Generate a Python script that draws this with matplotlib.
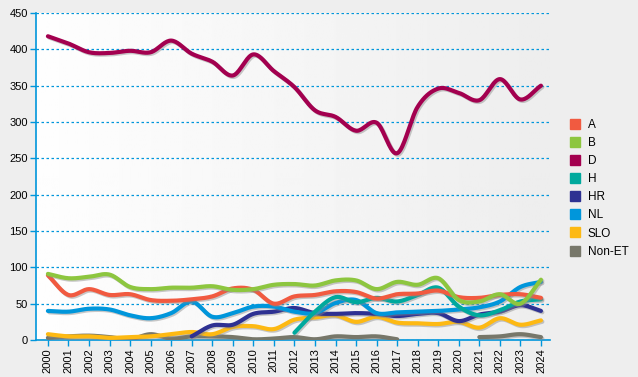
import numpy as np
import matplotlib.pyplot as plt
import matplotlib.patheffects as pe
from matplotlib.lines import Line2D

plt.rcParams['font.family'] = ['Liberation Sans', 'DejaVu Sans']

years = np.arange(2000, 2025)
nan = np.nan

A = [89, 62, 70, 62, 63, 55, 54, 56, 60, 71, 69, 50, 60, 62, 67, 66, 57, 63, 64, 68, 59, 58, 62, 63, 58]
B = [91, 85, 87, 90, 73, 70, 72, 72, 74, 69, 70, 76, 77, 75, 82, 82, 70, 80, 76, 85, 55, 53, 63, 50, 83]
D = [418, 408, 396, 395, 398, 396, 412, 394, 383, 364, 393, 370, 348, 316, 307, 288, 299, 257, 321, 346, 340, 330, 359, 331, 350]
H = [nan] * 12 + [10, 39, 59, 52, 58, 53, 62, 72, 46, 34, 41, 53, 56]
HR = [nan] * 7 + [5, 20, 21, 36, 39, 44, 37, 36, 37, 36, 33, 36, 37, 26, 35, 39, 48, 40]
NL = [40, 39, 43, 42, 34, 30, 37, 53, 32, 37, 46, 46, 39, 37, 51, 55, 37, 38, 39, 40, 42, 45, 53, 73, 80]
SLO = [8, 5, 5, 3, 4, 5, 8, 11, 8, 18, 19, 15, 28, 31, 34, 25, 32, 24, 23, 22, 25, 17, 30, 21, 27]
NonET = [3, 5, 6, 4, 1, 8, 2, 5, 5, 4, 1, 2, 4, 1, 5, 4, 5, 1, nan, nan, nan, 4, 5, 8, 4]

names = ['A', 'B', 'D', 'H', 'HR', 'NL', 'SLO', 'Non-ET']
series = [A, B, D, H, HR, NL, SLO, NonET]
colors = ['#f15a40', '#8dc63f', '#a3004f', '#00a99d', '#2e3192', '#0096db', '#fdb913', '#77776a']
# drawing order (back to front)
order = [7, 6, 4, 5, 3, 0, 1, 2]


def smooth(x, y, n=20):
    # catmull-rom between the points
    x = np.asarray(x, float)
    y = np.asarray(y, float)
    if len(x) < 2:
        return x, y
    m = np.zeros_like(y)
    m[1:-1] = (y[2:] - y[:-2]) / 2
    m[0] = y[1] - y[0]
    m[-1] = y[-1] - y[-2]
    xs, ys = [], []
    for i in range(len(x) - 1):
        t = np.linspace(0, 1, n, endpoint=False)
        h00 = 2*t**3 - 3*t**2 + 1
        h10 = t**3 - 2*t**2 + t
        h01 = -2*t**3 + 3*t**2
        h11 = t**3 - t**2
        xs.append(x[i] + t*(x[i+1] - x[i]))
        ys.append(h00*y[i] + h10*m[i] + h01*y[i+1] + h11*m[i+1])
    xs.append([x[-1]])
    ys.append([y[-1]])
    return np.concatenate(xs), np.concatenate(ys)


fig = plt.figure(figsize=(6.38, 3.77), dpi=100, facecolor='#eeeeee')
ax = fig.add_axes([36/638, 1 - 340/377, (550 - 36)/638, 327/377])

# background gradient
grad = np.linspace(0.995, 0.93, 256).reshape(1, -1)
ax.imshow(grad, extent=[0, 1, 0, 1], transform=ax.transAxes, cmap='gray',
          vmin=0, vmax=1, aspect='auto', zorder=0)

shadow = [pe.SimpleLineShadow(offset=(1.0, -1.0), shadow_color='#888888', alpha=0.45), pe.Normal()]
for k in order:
    y = np.array(series[k], float)
    ok = ~np.isnan(y)
    # split into contiguous parts
    idx = np.where(ok)[0]
    parts = np.split(idx, np.where(np.diff(idx) > 1)[0] + 1)
    for p in parts:
        sx, sy = smooth(years[p], y[p])
        ax.plot(sx, sy, color=colors[k], lw=3, solid_capstyle='round',
                path_effects=shadow, zorder=3)

ax.set_xlim(1999.42, 2024.44)
ax.set_ylim(0, 450)
ax.set_yticks(range(0, 451, 50))
ax.set_xticks(years)
ax.set_xticklabels([str(v) for v in years], rotation=90)
ax.yaxis.grid(True, color='#0096db', linestyle=(0, (2, 2)), lw=0.9)
ax.set_axisbelow(True)
for s in ['top', 'right']:
    ax.spines[s].set_visible(False)
for s in ['left', 'bottom']:
    ax.spines[s].set_color('#0096db')
    ax.spines[s].set_linewidth(1.2)
ax.tick_params(axis='both', colors='#0096db', labelcolor='black', labelsize=8,
               length=4, width=1, pad=2)

handles = [Line2D([], [], marker='s', linestyle='none', markersize=7,
                  markerfacecolor=c, markeredgecolor=c) for c in colors]
fig.legend(handles, names, loc='upper left', bbox_to_anchor=(563/638, 1 - 114/377),
           frameon=False, fontsize=8.5, handletextpad=0.5, labelspacing=0.52,
           handlelength=1.2, borderaxespad=0)

fig.savefig('out.png', dpi=100, facecolor=fig.get_facecolor())
